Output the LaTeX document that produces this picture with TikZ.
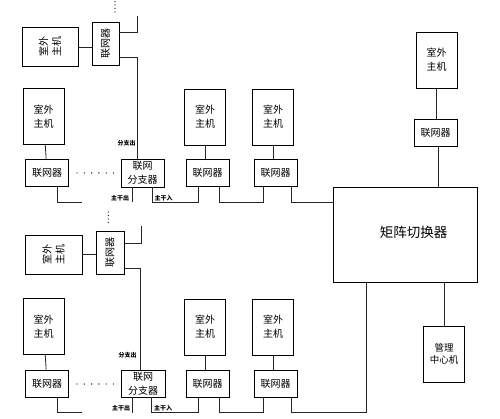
\documentclass[tikz,border=0pt]{standalone}
\usepackage{fontspec}
\setmainfont{Noto Sans CJK SC}
\begin{document}
\begin{tikzpicture}[x=1pt,y=-1pt,
  box/.style={draw=black, line width=0.8pt, inner sep=0pt, align=center, font=\fontsize{10}{14}\selectfont},
  host/.style={box, minimum width=41pt, minimum height=56pt},
  net/.style={box, minimum width=43pt, minimum height=27pt},
  wire/.style={draw=black!85, line width=0.8pt},
  tag/.style={font=\fontsize{6}{7}\selectfont\bfseries, inner sep=0pt},
  rtext/.style={rotate=90, align=center, inner sep=0pt, font=\fontsize{10}{13}\selectfont},
  dotmark/.style={fill=black}]
\useasboundingbox (0,0) rectangle (500,419);

% ---------------- upper group ----------------
\node[box, minimum width=56pt, minimum height=39pt] (OA1) at (50,46.5) {};
\node[rtext] (OA1t) at (OA1) {室外\\主机};
\node[box, minimum width=27pt, minimum height=43pt] (LA1) at (105.5,43.5) {};
\node[rtext] (LA1t) at (LA1) {联网器};

\node[host] (O1) at (43.5,116.5) {室外\\主机};
\node[net]  (L1) at (47,172.5) {联网器};
\node[box, minimum width=43pt, minimum height=28pt] (B) at (142.5,173) {联网\\分支器};
\node[host] (O2) at (205,117) {室外\\主机};
\node[net]  (L2) at (207.5,172.5) {联网器};
\node[host] (O3) at (273,117) {室外\\主机};
\node[net]  (L3) at (275.5,172.5) {联网器};

% ---------------- right part ----------------
\node[box, minimum width=144pt, minimum height=95pt] (M) at (405,234.5) {};
\node[font=\fontsize{13.5}{16}\selectfont, inner sep=0pt] (Mt) at (413.5,232) {矩阵切换器};
\node[host] (OR) at (436.5,60) {室外\\主机};
\node[net]  (LR) at (435.5,132.5) {联网器};
\node[host, font=\fontsize{9.5}{12.5}\selectfont] (G) at (444,354) {管理\\中心机};

% ---------------- lower group ----------------
\node[box, minimum width=57pt, minimum height=39pt] (OA2) at (53.5,254.5) {};
\node[rtext] (OA2t) at (OA2) {室外\\主机};
\node[box, minimum width=28pt, minimum height=43pt] (LA2) at (110,252.5) {};
\node[rtext] (LA2t) at (LA2) {联网器};

\node[host] (P1) at (43.5,326.5) {室外\\主机};
\node[net]  (K1) at (47,383.5) {联网器};
\node[box, minimum width=44pt, minimum height=27pt] (C) at (143,383.5) {联网\\分支器};
\node[host] (P2) at (205,327) {室外\\主机};
\node[net]  (K2) at (207.5,384) {联网器};
\node[host] (P3) at (273,327) {室外\\主机};
\node[net]  (K3) at (275.5,384) {联网器};

% ---------------- tags ----------------
\node[tag] (tg1) at (126.5,143) {分支出};
\node[tag] (tg2) at (120,198) {主干出};
\node[tag] (tg3) at (163.5,198) {主干入};
\node[tag] (tg4) at (127.5,355) {分支出};
\node[tag] (tg5) at (121,408) {主干出};
\node[tag] (tg6) at (163,408) {主干入};

% ---------------- dots ----------------
\foreach \y in {1.5,5,8.5,12} \fill[dotmark] (115,\y) circle (0.6);
\foreach \y in {212,215.5,219,222.5} \fill[dotmark] (108.3,\y) circle (0.6);
\foreach \x in {77,84.3,91.6,98.9,106.2,113.5} \fill[dotmark] (\x,173) circle (0.7);
\foreach \x in {77,84.3,91.6,98.9,106.2,113.5} \fill[dotmark] (\x,384) circle (0.7);

% ---------------- upper wires ----------------
\draw[wire] (OA1.east |- 0,47) -- (LA1.west |- 0,47);
\coordinate (tA) at (137.5,16);
\coordinate (sA) at (137.5,32);
\draw[wire] (LA1.east |- sA) -- (sA) -- (tA);
\coordinate (bA) at (137.5,57);
\draw[wire] (LA1.east |- bA) -- (bA) -- (bA |- B.north);

\draw[wire] (O1) -- (L1);
\draw[wire] (O2.south) -- (O2.south |- L2.north);
\draw[wire] (O3.south) -- (O3.south |- L3.north);

\coordinate (u1) at (57,202);   \coordinate (u1e) at (82,202);
\draw[wire] (L1.south -| u1) -- (u1) -- (u1e);
\coordinate (u2) at (132,202);
\draw[wire] (B.south -| u2) -- (u2);
\coordinate (u3) at (152,202);  \coordinate (u4) at (198,202);
\draw[wire] (B.south -| u3) -- (u3) -- (u4) -- (L2.south -| u4);
\coordinate (u5) at (219,202);  \coordinate (u6) at (263,202);
\draw[wire] (L2.south -| u5) -- (u5) -- (u6) -- (L3.south -| u6);
\coordinate (u7) at (291,202);
\draw[wire] (L3.south -| u7) -- (u7) -- (M.west |- u7);

% ---------------- right wires ----------------
\draw[wire] (OR.south) -- (OR.south |- LR.north);
\coordinate (r1) at (438,0);
\draw[wire] (LR.south -| r1) -- (M.north -| r1);
\draw[wire] (M.south -| G.north) -- (G.north);
\coordinate (d1) at (366,412.5);
\coordinate (d2) at (291,412.5);
\draw[wire] (M.south -| d1) -- (d1) -- (d2) -- (K3.south -| d2);

% ---------------- lower wires ----------------
\draw[wire] (OA2.east) -- (OA2.east -| LA2.west);
\coordinate (tB) at (141.7,226.5);
\coordinate (sB) at (141.7,243);
\draw[wire] (LA2.east |- sB) -- (sB) -- (tB);
\coordinate (bB) at (140,268);
\draw[wire] (LA2.east |- bB) -- (bB) -- (bB |- C.north);

\draw[wire] (P1) -- (K1);
\draw[wire] (P2.south) -- (P2.south |- K2.north);
\draw[wire] (P3.south) -- (P3.south |- K3.north);

\coordinate (v1) at (57,412.5);   \coordinate (v1e) at (82,412.5);
\draw[wire] (K1.south -| v1) -- (v1) -- (v1e);
\coordinate (v2) at (132.5,412.5);
\draw[wire] (C.south -| v2) -- (v2);
\coordinate (v3) at (151.5,412.5);  \coordinate (v4) at (198,412.5);
\draw[wire] (C.south -| v3) -- (v3) -- (v4) -- (K2.south -| v4);
\coordinate (v5) at (219,412.5);  \coordinate (v6) at (263,412.5);
\draw[wire] (K2.south -| v5) -- (v5) -- (v6) -- (K3.south -| v6);
\end{tikzpicture}
\end{document}
